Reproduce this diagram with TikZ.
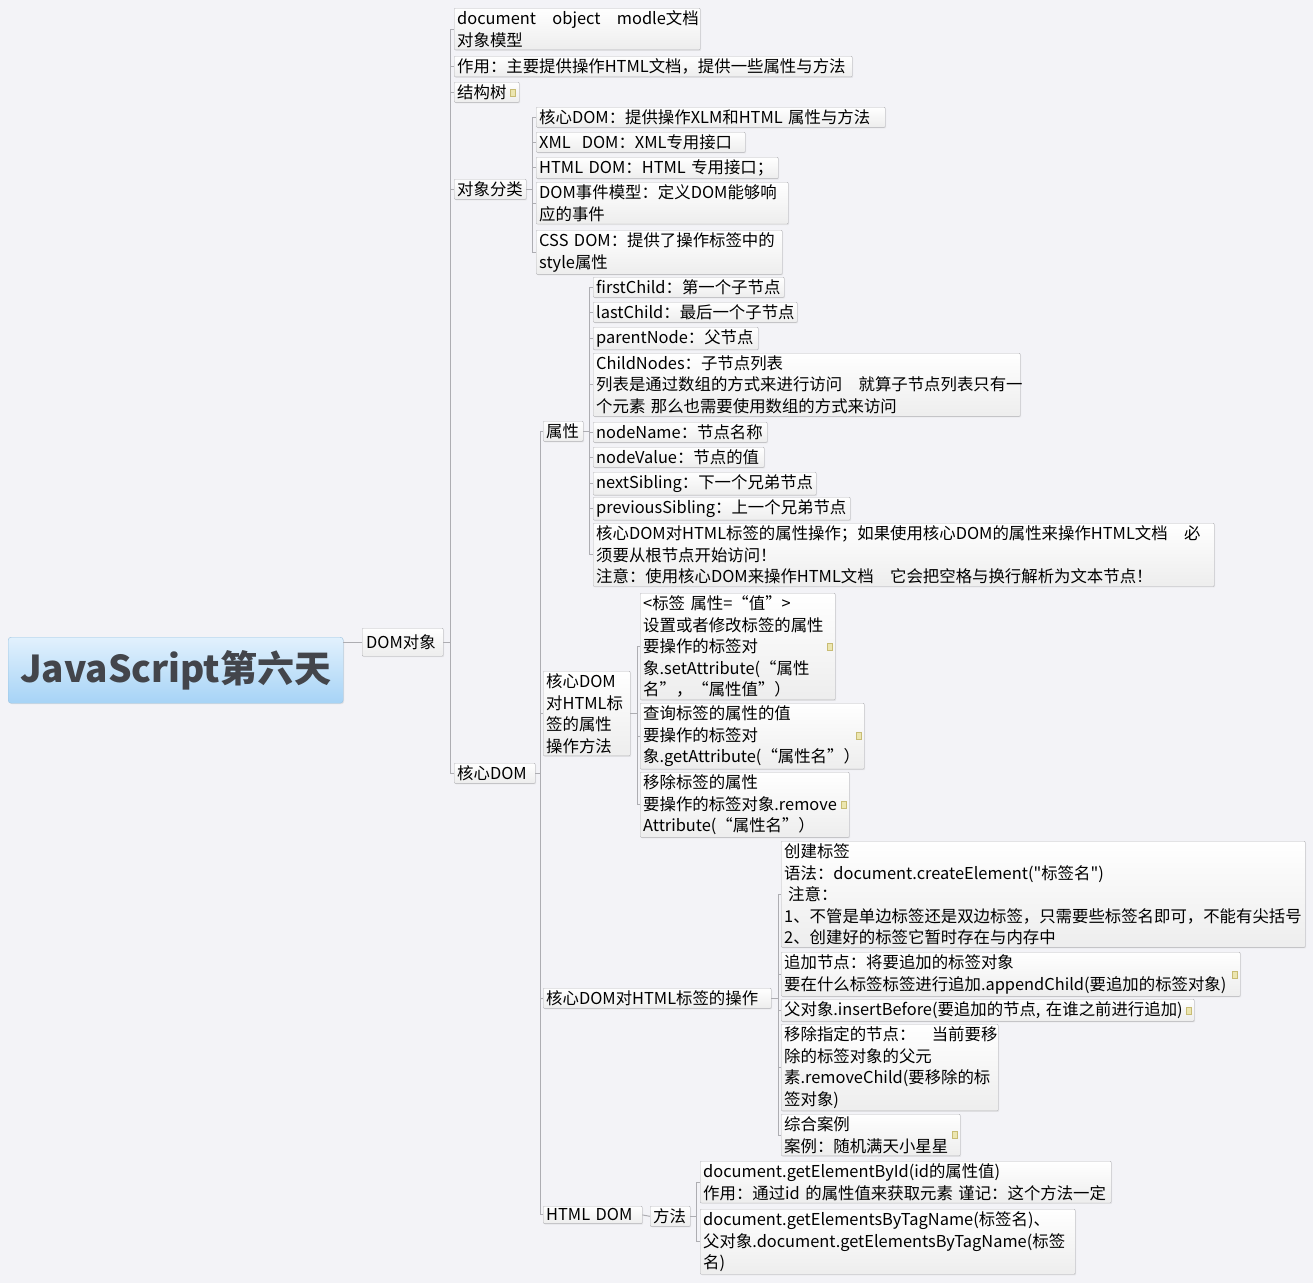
\documentclass[tikz,border=0pt]{standalone}
\usepackage{fontspec}
\setmainfont{Noto Sans CJK SC}[Ligatures=TeXOff]
\usepackage{tikz}
\usetikzlibrary{shadows}
\definecolor{canvas}{HTML}{F3F3F7}
\definecolor{roottop}{HTML}{E2F1FD}
\definecolor{rootbottom}{HTML}{A6D3F6}
\definecolor{rootline}{HTML}{9CC3E0}
\definecolor{rootink}{HTML}{43454B}
\definecolor{boxline}{HTML}{B2B2B6}
\definecolor{linkgray}{HTML}{ADADB2}
\definecolor{memofill}{HTML}{ECE6B0}
\definecolor{memoline}{HTML}{C8BC74}

\begin{document}
\begin{tikzpicture}[x=1pt, y=-1pt, every node/.style={font=\fontsize{16.4}{21.5}\selectfont}]

    % styles of the mind map
    \tikzset{
        rootbox/.style={draw=rootline, top color=roottop, bottom color=rootbottom, rounded corners=3pt, anchor=north west, minimum width=335pt, minimum height=66pt, text=rootink, font=\fontsize{37}{40}\selectfont\bfseries, drop shadow={opacity=0.15, shadow xshift=1pt, shadow yshift=-1pt}},
        leaf/.style={draw=boxline, top color=white, bottom color=black!7, rounded corners=1pt, anchor=north west, inner xsep=3pt, inner ysep=2.5pt, align=left, drop shadow={opacity=0.12, shadow xshift=1pt, shadow yshift=-1pt}},
        branch/.style={leaf, minimum height=28pt, inner xsep=4pt},
        memo/.style={draw=memoline, fill=memofill, minimum width=5pt, minimum height=7pt, inner sep=0pt},
        link/.style={draw=linkgray, line width=1pt}
    }

    \useasboundingbox[fill=canvas] (0,0) rectangle (1313,1283);

    % root and first level
    \node[rootbox] (root) at (8,637) {JavaScript第六天};
    \node[branch, text width=73pt] (dom) at (362,628) {DOM对象};

    % children of DOM对象
    \node[leaf, text width=240pt] (model) at (454,8) {\mbox{document~~~object~~~modle文档}\\对象模型};
    \node[leaf, text width=392pt] (role) at (454,56) {作用：主要提供操作HTML文档，提供一些属性与方法};
    \node[leaf, text width=59pt] (tree) at (454,82) {结构树};
    \node[leaf, text width=66pt] (kinds) at (454,179) {对象分类};
    \node[leaf, text width=75pt] (core) at (454,763) {核心DOM};

    % 对象分类
    \node[leaf, text width=343pt] (kcore) at (536,107) {核心DOM：提供操作XLM和HTML 属性与方法};
    \node[leaf, text width=203pt] (kxml) at (536,132) {XML\ \ DOM：XML专用接口};
    \node[leaf, text width=236pt] (khtml) at (536,157) {HTML DOM：HTML 专用接口；};
    \node[leaf, text width=246pt] (kevent) at (536,182) {DOM事件模型：定义DOM能够响\\应的事件};
    \node[leaf, text width=240pt] (kcss) at (536,230) {CSS DOM：提供了操作标签中的\\style属性};

    % 核心DOM
    \node[leaf, text width=34pt] (attr) at (543,421) {属性};
    \node[leaf, text width=81pt] (attrop) at (543,671) {核心DOM\\对HTML标\\签的属性\\操作方法};
    \node[leaf, text width=222pt] (tagop) at (543,988) {核心DOM对HTML标签的操作};
    \node[leaf, text width=93pt] (hdom) at (543,1206) {HTML DOM};
    \node[leaf, text width=34pt] (method) at (650,1206) {方法};

    % 属性
    \node[leaf, text width=185pt] (first) at (593,277) {firstChild：第一个子节点};
    \node[leaf, text width=198pt] (last) at (593,302) {lastChild：最后一个子节点};
    \node[leaf, text width=159pt] (parent) at (593,327) {parentNode：父节点};
    \node[leaf, text width=421pt] (childs) at (593,353) {ChildNodes：子节点列表\\列表是通过数组的方式来进行访问　就算子节点列表只有一\\个元素 那么也需要使用数组的方式来访问};
    \node[leaf, text width=168pt] (name) at (593,422) {nodeName：节点名称};
    \node[leaf, text width=165pt] (value) at (593,447) {nodeValue：节点的值};
    \node[leaf, text width=217pt] (next) at (593,472) {nextSibling：下一个兄弟节点};
    \node[leaf, text width=251pt] (prev) at (593,497) {previousSibling：上一个兄弟节点};
    \node[leaf, text width=615pt] (attrnote) at (593,523) {核心DOM对HTML标签的属性操作；如果使用核心DOM的属性来操作HTML文档　必\\须要从根节点开始访问！\\注意：使用核心DOM来操作HTML文档　它会把空格与换行解析为文本节点！};

    % 属性操作方法
    \node[leaf, text width=189pt] (setat) at (640,593) {<标签 属性=“值”>\\设置或者修改标签的属性\\要操作的标签对\\象.setAttribute(“属性\\名”，“属性值”）};
    \node[leaf, text width=218pt] (getat) at (640,703) {查询标签的属性的值\\要操作的标签对\\象.getAttribute(“属性名”）};
    \node[leaf, text width=203pt] (remat) at (640,772) {移除标签的属性\\要操作的标签对象.remove\\Attribute(“属性名”）};

    % 标签的操作
    \node[leaf, text width=518pt] (create) at (781,841) {创建标签\\语法：document.createElement("标签名")\\\hspace*{4pt}注意：\\1、不管是单边标签还是双边标签，只需要些标签名即可，不能有尖括号\\2、创建好的标签它暂时存在与内存中};
    \node[leaf, text width=453pt] (append) at (781,952) {追加节点：将要追加的标签对象\\要在什么标签标签进行追加.appendChild(要追加的标签对象)};
    \node[leaf, text width=407pt] (insert) at (781,999) {父对象.insertBefore(要追加的节点, 在谁之前进行追加)};
    \node[leaf, text width=211pt] (remove) at (781,1024) {移除指定的节点：　当前要移\\除的标签对象的父元\\素.removeChild(要移除的标\\签对象)};
    \node[leaf, text width=173pt] (stars) at (781,1114) {综合案例\\案例：随机满天小星星};

    % HTML DOM 方法
    \node[leaf, text width=405pt] (byid) at (700,1161) {document.getElementById(id的属性值)\\作用：通过id 的属性值来获取元素 谨记：这个方法一定};
    \node[leaf, text width=369pt] (bytag) at (700,1209) {document.getElementsByTagName(标签名)、\\父对象.document.getElementsByTagName(标签\\名)};

    % note icons
    \node[memo] (m1) at ([xshift=-7pt]tree.east) {};
    \node[memo] (m2) at ([xshift=-6pt]setat.east) {};
    \node[memo] (m3) at ([xshift=-6pt]getat.east) {};
    \node[memo] (m4) at ([xshift=-6pt]remat.east) {};
    \node[memo] (m5) at ([xshift=-6pt]append.east) {};
    \node[memo] (m6) at ([xshift=-6pt]insert.east) {};
    \node[memo] (m7) at ([xshift=-6pt]stars.east) {};

    % connectors
    \draw[link] (dom.west -| root.east) -- (dom.west);
    \foreach \c in {model,role,tree,kinds,core}
        \draw[link] (dom.east) -| ([xshift=-4pt]\c.west) -- (\c.west);
    \foreach \c in {kcore,kxml,khtml,kevent,kcss}
        \draw[link] (kinds.east) -| ([xshift=-4pt]\c.west) -- (\c.west);
    \foreach \c in {attr,attrop,tagop,hdom}
        \draw[link] (core.east) -| ([xshift=-3pt]\c.west) -- (\c.west);
    \foreach \c in {first,last,parent,childs,name,value,next,prev,attrnote}
        \draw[link] (attr.east) -| ([xshift=-4pt]\c.west) -- (\c.west);
    \foreach \c in {setat,getat,remat}
        \draw[link] (attrop.east) -| ([xshift=-3pt]\c.west) -- (\c.west);
    \foreach \c in {create,append,insert,remove,stars}
        \draw[link] (tagop.east) -| ([xshift=-3pt]\c.west) -- (\c.west);
    \draw[link] (hdom.east) -- (method.west);
    \foreach \c in {byid,bytag}
        \draw[link] (method.east) -| ([xshift=-4pt]\c.west) -- (\c.west);

\end{tikzpicture}
\end{document}
